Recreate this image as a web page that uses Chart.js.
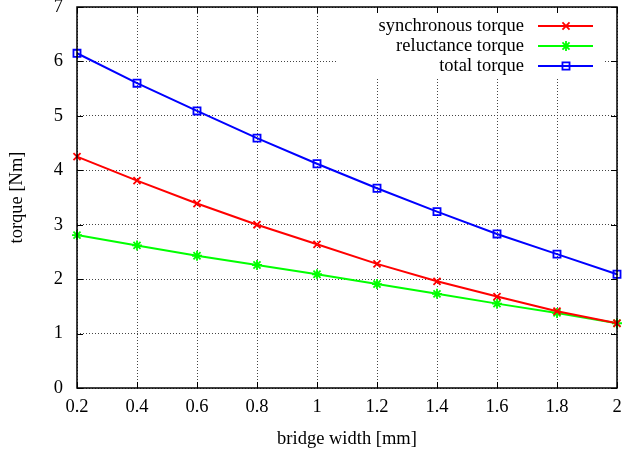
<!DOCTYPE html>
<html>
<head>
<meta charset="utf-8">
<script src="https://cdn.jsdelivr.net/npm/chart.js@4/dist/chart.umd.min.js"></script>
<style>
  html, body { margin: 0; padding: 0; background: #fff; }
  #wrap { width: 624px; height: 456px; }
</style>
</head>
<body>
<div id="wrap"><canvas id="torqueChart"></canvas></div>
<script>
/* bridge width vs torque, gnuplot look */

var bridgeWidth = [0.2, 0.4, 0.6, 0.8, 1.0, 1.2, 1.4, 1.6, 1.8, 2.0];
var synchronousTorque = [4.25, 3.81, 3.39, 3.00, 2.64, 2.28, 1.96, 1.68, 1.41, 1.19];
var reluctanceTorque = [2.81, 2.62, 2.43, 2.26, 2.09, 1.91, 1.73, 1.55, 1.38, 1.19];
var totalTorque = [6.15, 5.60, 5.09, 4.59, 4.12, 3.67, 3.24, 2.83, 2.46, 2.09];

var xTicks = [0.2, 0.4, 0.6, 0.8, 1, 1.2, 1.4, 1.6, 1.8, 2];
var yTicks = [0, 1, 2, 3, 4, 5, 6, 7];

var FONT = '"Liberation Serif", "DejaVu Serif", "Times New Roman", serif';
var FSIZE = 18.5;

function points(ys) {
  return bridgeWidth.map(function (x, i) { return { x: x, y: ys[i] }; });
}

function series(label, ys, color, style, radius) {
  return {
    label: label,
    data: points(ys),
    borderColor: color,
    backgroundColor: 'transparent',
    borderWidth: 2,
    pointStyle: style,
    pointRadius: radius,
    pointBorderWidth: 1.8,
    pointBorderColor: color,
    pointBackgroundColor: 'transparent',
    tension: 0,
    clip: false,
  };
}

function noPad(scale) {
  scale.paddingTop = 0;
  scale.paddingBottom = 0;
  scale.paddingLeft = 0;
  scale.paddingRight = 0;
}

// white key box, frame, inward ticks, key entries
var gnuFrame = {
  id: 'gnuFrame',
  beforeDatasetsDraw: function (chart) {
    var a = chart.chartArea, ctx = chart.ctx;
    ctx.save();
    ctx.fillStyle = '#fff';
    ctx.fillRect(a.right - 279, a.top + 1, 267, 69);
    ctx.restore();
  },
  afterDraw: function (chart) {
    var a = chart.chartArea, ctx = chart.ctx;
    var sx = chart.scales.x, sy = chart.scales.y;
    ctx.save();
    ctx.strokeStyle = '#000';
    ctx.lineWidth = 1;
    ctx.beginPath();
    xTicks.forEach(function (v) {
      var px = Math.round(sx.getPixelForValue(v)) + 0.5;
      ctx.moveTo(px, a.bottom); ctx.lineTo(px, a.bottom - 6);
      ctx.moveTo(px, a.top); ctx.lineTo(px, a.top + 6);
    });
    yTicks.forEach(function (v) {
      var py = Math.round(sy.getPixelForValue(v)) + 0.5;
      ctx.moveTo(a.left, py); ctx.lineTo(a.left + 6, py);
      ctx.moveTo(a.right, py); ctx.lineTo(a.right - 6, py);
    });
    ctx.stroke();
    ctx.lineWidth = 1.5;
    ctx.strokeRect(a.left, a.top, a.right - a.left, a.bottom - a.top);

    ctx.font = FSIZE + 'px ' + FONT;
    ctx.textAlign = 'right';
    ctx.textBaseline = 'middle';
    chart.data.datasets.forEach(function (ds, i) {
      var y = a.top + 19 + 20 * i;
      ctx.fillStyle = '#000';
      ctx.fillText(ds.label, a.right - 93, y);
      ctx.strokeStyle = ds.borderColor;
      ctx.lineWidth = 2;
      ctx.beginPath();
      ctx.moveTo(a.right - 79, y);
      ctx.lineTo(a.right - 24, y);
      ctx.stroke();
      if (Chart.helpers && Chart.helpers.drawPoint) {
        ctx.lineWidth = ds.pointBorderWidth;
        ctx.fillStyle = 'transparent';
        Chart.helpers.drawPoint(ctx, {
          pointStyle: ds.pointStyle, rotation: 0, radius: ds.pointRadius, borderWidth: ds.pointBorderWidth,
        }, a.right - 51, y);
      }
    });
    ctx.restore();
  },
};

new Chart(document.getElementById('torqueChart'), {
  type: 'line',
  data: {
    datasets: [
      series('synchronous torque', synchronousTorque, '#ff0000', 'crossRot', 5),
      series('reluctance torque', reluctanceTorque, '#00ff00', 'star', 5),
      series('total torque', totalTorque, '#0000ff', 'rect', 5),
    ],
  },
  options: {
    responsive: true,
    maintainAspectRatio: false,
    animation: false,
    layout: { padding: { top: 7, right: 7, left: 0, bottom: 0 } },
    plugins: {
      legend: { display: false },
      tooltip: { enabled: false },
    },
    scales: {
      x: {
        type: 'linear',
        min: 0.2,
        max: 2,
        afterBuildTicks: function (scale) {
          scale.ticks = xTicks.map(function (v) { return { value: v }; });
        },
        afterFit: function (scale) { scale.height = 68; noPad(scale); },
        ticks: {
          color: '#000',
          padding: 8,
          font: { family: FONT, size: FSIZE },
          callback: function (v) { return String(v); },
        },
        grid: { color: '#444', lineWidth: 1, drawTicks: false },
        border: { display: false, dash: [1, 2] },
        title: {
          display: true,
          text: 'bridge width [mm]',
          color: '#000',
          font: { family: FONT, size: FSIZE },
          padding: { top: 4, bottom: 6 },
        },
      },
      y: {
        min: 0,
        max: 7,
        afterBuildTicks: function (scale) {
          scale.ticks = yTicks.map(function (v) { return { value: v }; });
        },
        afterFit: function (scale) { scale.width = 77; noPad(scale); },
        ticks: {
          color: '#000',
          padding: 14,
          font: { family: FONT, size: FSIZE },
        },
        grid: { color: '#444', lineWidth: 1, drawTicks: false },
        border: { display: false, dash: [1, 2] },
        title: {
          display: true,
          text: 'torque [Nm]',
          color: '#000',
          font: { family: FONT, size: FSIZE },
          padding: { top: 6, bottom: 4 },
        },
      },
    },
  },
  plugins: [gnuFrame],
});
</script>
</body>
</html>
